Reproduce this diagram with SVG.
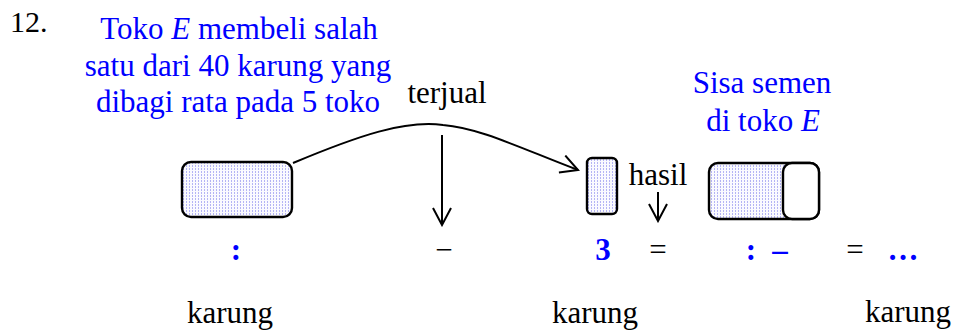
<svg xmlns="http://www.w3.org/2000/svg" width="955" height="332" viewBox="0 0 955 332">
<defs>
<pattern id="dots" width="3" height="3" patternUnits="userSpaceOnUse">
<rect width="3" height="3" fill="#fafaff"/>
<rect width="1" height="2" fill="#b4b4f4"/>
</pattern>
<marker id="open" markerWidth="20" markerHeight="20" refX="18" refY="10" orient="auto" markerUnits="userSpaceOnUse">
<path d="M1,1 L18,10 L1,19" fill="none" stroke="#000" stroke-width="2"/>
</marker>
</defs>
<style>
text{font-family:"Liberation Serif","Times New Roman",serif;font-size:31px;fill:#000}
.b{fill:#0000ff}
.bb{fill:#0000ff;font-weight:bold}
.c{text-anchor:middle}
.box{fill:url(#dots);stroke:#000;stroke-width:2.4}
.ln{fill:none;stroke:#000;stroke-width:2}
</style>
<text x="10" y="32" style="font-size:30px">12.</text>
<g id="label-toko">
<text class="b c" x="239" y="39">Toko <tspan font-style="italic">E</tspan> membeli salah</text>
<text class="b c" x="238" y="76">satu dari 40 karung yang</text>
<text class="b c" x="238" y="112">dibagi rata pada 5 toko</text>
</g>
<g id="label-sisa">
<text class="b c" x="762" y="93">Sisa semen</text>
<text class="b c" x="763" y="131">di toko <tspan font-style="italic">E</tspan></text>
</g>
<g id="label-terjual"><text class="c" x="447" y="103">terjual</text></g>
<g id="label-hasil"><text class="c" x="658" y="185">hasil</text></g>
<g id="box-left"><rect class="box" x="182" y="162" width="110" height="55" rx="9"/></g>
<g id="box-small"><rect class="box" x="587" y="158" width="30" height="56" rx="5"/></g>
<g id="box-right">
<rect class="box" x="709" y="163" width="110" height="56" rx="9"/>
<rect x="783" y="163" width="36" height="56" rx="9" fill="#fff" stroke="#000" stroke-width="2.4"/>
</g>
<g id="connectors">
<path class="ln" d="M293,163 C360,135 405,120 443,125 C480,128 520,148 578,170" marker-end="url(#open)"/>
<path class="ln" d="M442,135 L442,225" marker-end="url(#open)"/>
<path class="ln" d="M658,192 L658,221" marker-end="url(#open)"/>
</g>
<g id="row">
<text class="bb c" x="236" y="260">:</text>
<text class="c" x="444" y="260">−</text>
<text class="bb c" x="603" y="260">3</text>
<text class="c" x="658" y="260">=</text>
<text class="bb c" x="751" y="260">:</text>
<text class="bb c" x="780" y="260">–</text>
<text class="c" x="855" y="260">=</text>
<text class="bb c" x="903" y="260">…</text>
</g>
<g id="units">
<text x="187" y="323">karung</text>
<text x="552" y="323">karung</text>
<text x="865" y="322">karung</text>
</g>
</svg>
